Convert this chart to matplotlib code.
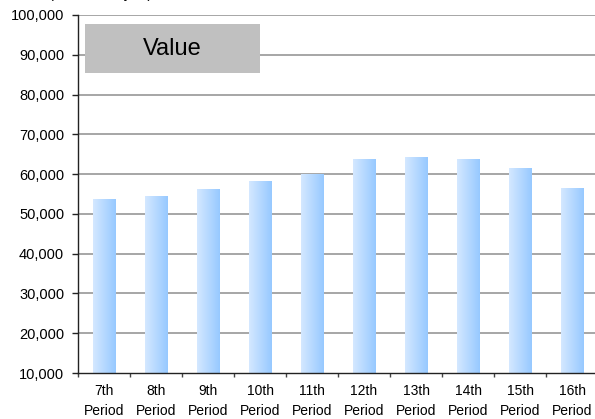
import numpy as np
import matplotlib
matplotlib.use("Agg")
import matplotlib.pyplot as plt
from matplotlib.colors import LinearSegmentedColormap
from matplotlib.ticker import FuncFormatter

periods = ["7th\nPeriod", "8th\nPeriod", "9th\nPeriod", "10th\nPeriod", "11th\nPeriod",
           "12th\nPeriod", "13th\nPeriod", "14th\nPeriod", "15th\nPeriod", "16th\nPeriod"]
values = [53700, 54500, 56200, 58200, 60000, 63800, 64300, 63800, 61500, 56500]
y_ticks = list(range(10000, 100001, 10000))

bar_width = 0.43
y_min = 10000
y_max = 100000
grid_color = '#a6a6a6'
light_blue = '#d4e8ff'
dark_blue = '#97c9ff'

plt.rcParams['font.family'] = ['Liberation Sans', 'DejaVu Sans']

fig = plt.figure(figsize=(5.95, 4.19), dpi=100)
ax = fig.add_axes([78 / 595, 46 / 419, 520 / 595, 358 / 419])

# horizontal gridlines under the bars
for y in y_ticks[1:]:
    ax.axhline(y, color=grid_color, lw=1.4, zorder=0)

# bars filled with a left-to-right light blue gradient
cmap = LinearSegmentedColormap.from_list('bar_grad', [light_blue, dark_blue])
grad = np.linspace(0, 1, 64).reshape(1, -1)
bars = ax.bar(range(len(values)), [v - y_min for v in values], bottom=y_min,
              width=bar_width, color='none', edgecolor='none', zorder=2)
for bar in bars:
    x0 = bar.get_x()
    img = ax.imshow(grad, cmap=cmap, aspect='auto', interpolation='bilinear',
                    extent=(x0, x0 + bar.get_width(), y_min, y_min + bar.get_height()),
                    zorder=2)
    img.set_clip_path(bar)
ax.set_xlim(-0.5, len(periods) - 0.5)
ax.set_ylim(y_min, y_max)

# axes styling
for side in ['top', 'right']:
    ax.spines[side].set_visible(False)
ax.spines['left'].set_color('#222222')
ax.spines['bottom'].set_color('#222222')
ax.spines['left'].set_linewidth(1.0)
ax.spines['bottom'].set_linewidth(1.0)

ax.set_yticks(y_ticks)
ax.yaxis.set_major_formatter(FuncFormatter(lambda v, p: f"{int(v):,}"))
ax.tick_params(axis='y', direction='out', length=4, width=1, color='#222222',
               labelsize=10.5, pad=6)

ax.set_xticks(range(len(periods)))
ax.set_xticklabels(periods, fontsize=10, linespacing=1.55)
ax.tick_params(axis='x', which='major', length=0, pad=8)
ax.set_xticks(np.arange(-0.5, len(periods), 1.0), minor=True)
ax.tick_params(axis='x', which='minor', direction='out', length=3, width=1,
               color='#444444')

# legend-like caption box
fig.patches.append(plt.Rectangle((85 / 595, 1 - 73 / 419), 175 / 595, 49 / 419,
                                 transform=fig.transFigure, facecolor='#c0c0c0',
                                 edgecolor='none', zorder=5))
fig.text(172 / 595, 1 - 49 / 419, "Value", fontsize=17, ha='center', va='center',
         zorder=6)

# unit note at the top edge
fig.text(152 / 595, 1 + 6 / 419, "(Millions of yen)", fontsize=10.5, ha='right',
         va='center')

fig.savefig("out.png", dpi=100)
